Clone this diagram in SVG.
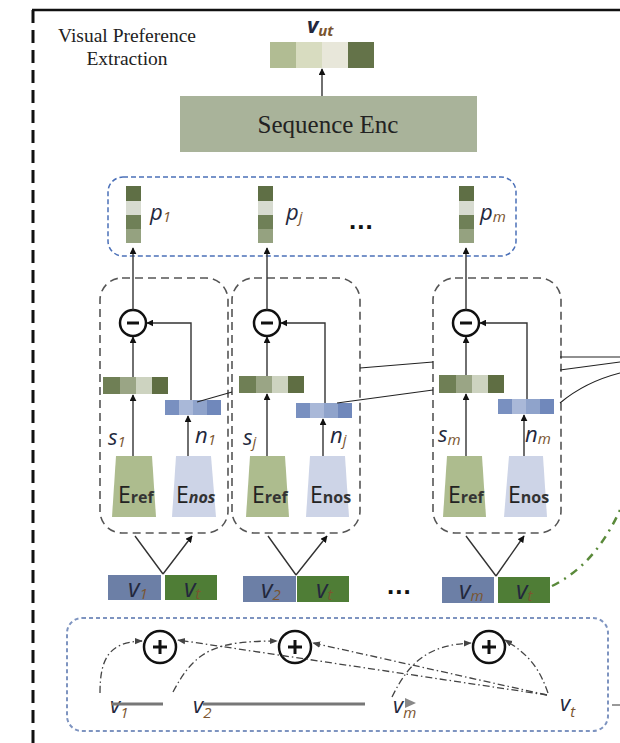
<svg xmlns="http://www.w3.org/2000/svg" width="620" height="743" viewBox="0 0 620 743">
<defs>
<marker id="ah" viewBox="0 0 10 10" refX="9" refY="5" markerWidth="7" markerHeight="7" orient="auto" markerUnits="userSpaceOnUse"><path d="M0,0 L10,5 L0,10 z" fill="#111"/></marker>
<marker id="ahg" viewBox="0 0 10 10" refX="9" refY="5" markerWidth="8" markerHeight="8" orient="auto" markerUnits="userSpaceOnUse"><path d="M0,1 L10,5 L0,9 z" fill="#444"/></marker>
</defs>
<style>
.ser{font-family:"Liberation Serif","Times New Roman",serif;fill:#222}
.lab{font-family:"Open Sans","DejaVu Sans",sans-serif;font-style:italic;fill:#23283d;font-size:22px}
.sub{font-size:15px;fill:#7a5530}
.big{font-size:25px}
.e{font-family:"Open Sans","DejaVu Sans",sans-serif;fill:#222;font-size:23px}
.es{font-size:16px;font-weight:bold;fill:#333}
.mod{fill:none;stroke:#555;stroke-width:1.6;stroke-dasharray:8 5}
.ar{stroke:#333;stroke-width:1.4;fill:none;marker-end:url(#ah)}
.ln{stroke:#222;stroke-width:1.1;fill:none}
.dd{stroke:#444;stroke-width:1.3;fill:none;stroke-dasharray:7 3 1.5 3}
.op{fill:#fff;stroke:#111;stroke-width:2.5}
.sg{stroke:#111;stroke-width:3}
.ref{fill:#adbc8e}
.nos{fill:#cdd4e7}
.vb{fill:#6c7fa6}
.vg{fill:#4f7d36}
.dots{font-family:"Liberation Sans",sans-serif;font-weight:bold;font-size:26px;fill:#111;letter-spacing:1px}
</style>

<g id="frame">
<line x1="32" y1="10" x2="620" y2="10" stroke="#111" stroke-width="2.5"/>
<line x1="33" y1="10" x2="33" y2="743" stroke="#111" stroke-width="3" stroke-dasharray="13 7"/>
</g>

<g id="title">
<text class="ser" x="127" y="42" font-size="19.5" text-anchor="middle">Visual Preference</text>
<text class="ser" x="127" y="65" font-size="19.5" text-anchor="middle">Extraction</text>
</g>

<g id="vut">
<rect x="270" y="42" width="26" height="26" fill="#b1bc93"/>
<rect x="296" y="42" width="26" height="26" fill="#d8dcc0"/>
<rect x="322" y="42" width="26" height="26" fill="#e8e7da"/>
<rect x="348" y="42" width="26" height="26" fill="#647349"/>
<text class="lab" x="307" y="33" font-weight="bold" font-size="19px">v<tspan class="sub" dy="3" fill="#3a3040">ut</tspan></text>
</g>

<g id="seqenc">
<rect x="180" y="96" width="297" height="56" fill="#a9b39a"/>
<text class="ser" x="328" y="133" font-size="25" text-anchor="middle">Sequence Enc</text>
</g>

<g id="pbox">
<rect x="108" y="177" width="408" height="79" rx="15" fill="none" stroke="#4b70b8" stroke-width="1.5" stroke-dasharray="5 3"/>
<g id="p1">
<rect x="126" y="186" width="15" height="15" fill="#5f6f45"/><rect x="126" y="201" width="15" height="14" fill="#d7dbd0"/><rect x="126" y="215" width="15" height="14" fill="#6f8057"/><rect x="126" y="229" width="15" height="14" fill="#95a280"/>
<text class="lab" x="150" y="220">p<tspan class="sub" dy="2">1</tspan></text>
</g>
<g id="pj">
<rect x="258" y="186" width="15" height="15" fill="#5f6f45"/><rect x="258" y="201" width="15" height="14" fill="#d7dbd0"/><rect x="258" y="215" width="15" height="14" fill="#6f8057"/><rect x="258" y="229" width="15" height="14" fill="#95a280"/>
<text class="lab" x="286" y="220">p<tspan class="sub" dy="2">j</tspan></text>
</g>
<text class="dots" x="349" y="229">...</text>
<g id="pm">
<rect x="459" y="186" width="15" height="15" fill="#5f6f45"/><rect x="459" y="201" width="15" height="14" fill="#d7dbd0"/><rect x="459" y="215" width="15" height="14" fill="#6f8057"/><rect x="459" y="229" width="15" height="14" fill="#95a280"/>
<text class="lab" x="480" y="220">p<tspan class="sub" dy="2">m</tspan></text>
</g>
</g>

<g id="module1">
<rect class="mod" x="100" y="278" width="128" height="255" rx="22"/>
<g>
<rect x="103" y="377" width="17" height="17" fill="#6f7f55"/><rect x="120" y="377" width="16" height="17" fill="#9aa585"/><rect x="136" y="377" width="16" height="17" fill="#cdd3c0"/><rect x="152" y="377" width="16" height="17" fill="#5f6e43"/>
</g>
<g>
<rect x="165" y="400" width="14" height="15" fill="#7990c0"/><rect x="179" y="400" width="14" height="15" fill="#a9b8d8"/><rect x="193" y="400" width="14" height="15" fill="#8fa3cb"/><rect x="207" y="400" width="14" height="15" fill="#7088bb"/>
</g>
<path class="ref" d="M116,456 L152,456 L156,517 L112,517 z"/>
<path class="nos" d="M176,456 L211,456 L216,517 L172,517 z"/>
<text class="e" x="118" y="503">E<tspan class="es">ref</tspan></text>
<text class="e" x="176" y="503">E<tspan class="es" font-style="italic">nos</tspan></text>
<text class="lab" x="108" y="445">s<tspan class="sub" dy="2">1</tspan></text>
<text class="lab" x="195" y="443">n<tspan class="sub" dy="2">1</tspan></text>
<circle class="op" cx="133" cy="323" r="13"/><line class="sg" x1="127" y1="323" x2="139" y2="323"/>
</g>

<g id="module2">
<rect class="mod" x="232" y="278" width="128" height="255" rx="22"/>
<g>
<rect x="239" y="376" width="17" height="17" fill="#6f7f55"/><rect x="256" y="376" width="16" height="17" fill="#9aa585"/><rect x="272" y="376" width="16" height="17" fill="#cdd3c0"/><rect x="288" y="376" width="16" height="17" fill="#5f6e43"/>
</g>
<g>
<rect x="296" y="403" width="14" height="15" fill="#7990c0"/><rect x="310" y="403" width="14" height="15" fill="#a9b8d8"/><rect x="324" y="403" width="14" height="15" fill="#8fa3cb"/><rect x="338" y="403" width="14" height="15" fill="#7088bb"/>
</g>
<path class="ref" d="M250,456 L285,456 L289,517 L246,517 z"/>
<path class="nos" d="M310,456 L345,456 L349,517 L306,517 z"/>
<text class="e" x="252" y="503">E<tspan class="es" font-weight="normal">ref</tspan></text>
<text class="e" x="310" y="503">E<tspan class="es" font-weight="normal">nos</tspan></text>
<text class="lab" x="243" y="445">s<tspan class="sub" dy="2">j</tspan></text>
<text class="lab" x="330" y="443">n<tspan class="sub" dy="2">j</tspan></text>
<circle class="op" cx="267" cy="323" r="13"/><line class="sg" x1="261" y1="323" x2="273" y2="323"/>
</g>

<g id="module3">
<rect class="mod" x="433" y="278" width="128" height="255" rx="22"/>
<g>
<rect x="439" y="375" width="17" height="18" fill="#6f7f55"/><rect x="456" y="375" width="16" height="18" fill="#9aa585"/><rect x="472" y="375" width="16" height="18" fill="#cdd3c0"/><rect x="488" y="375" width="16" height="18" fill="#5f6e43"/>
</g>
<g>
<rect x="498" y="399" width="14" height="15" fill="#7990c0"/><rect x="512" y="399" width="14" height="15" fill="#a9b8d8"/><rect x="526" y="399" width="14" height="15" fill="#8fa3cb"/><rect x="540" y="399" width="14" height="15" fill="#7088bb"/>
</g>
<path class="ref" d="M447,456 L482,456 L486,517 L443,517 z"/>
<path class="nos" d="M509,456 L543,456 L547,517 L504,517 z"/>
<text class="e" x="448" y="503">E<tspan class="es">ref</tspan></text>
<text class="e" x="508" y="503">E<tspan class="es" font-weight="normal">nos</tspan></text>
<text class="lab" x="438" y="442">s<tspan class="sub" dy="3">m</tspan></text>
<text class="lab" x="525" y="442">n<tspan class="sub" dy="2">m</tspan></text>
<circle class="op" cx="466" cy="323" r="13"/><line class="sg" x1="460" y1="323" x2="472" y2="323"/>
</g>

<g id="pairs">
<rect class="vb" x="108" y="575" width="53" height="25"/><rect class="vg" x="165" y="575" width="52" height="25"/>
<text class="lab big" x="128" y="597">v<tspan class="sub" dy="2" fill="#23283d">1</tspan></text>
<text class="lab big" x="184" y="597" fill="#111">v<tspan class="sub" dy="2" fill="#111">t</tspan></text>
<rect class="vb" x="243" y="576" width="53" height="26"/><rect class="vg" x="297" y="576" width="52" height="26"/>
<text class="lab big" x="261" y="598">v<tspan class="sub" dy="2" fill="#23283d">2</tspan></text>
<text class="lab big" x="316" y="598" fill="#111">v<tspan class="sub" dy="2" fill="#111">t</tspan></text>
<text class="dots" x="387" y="594">...</text>
<rect class="vb" x="442" y="577" width="52" height="26"/><rect class="vg" x="498" y="577" width="52" height="26"/>
<text class="lab big" x="459" y="599">v<tspan class="sub" dy="2" fill="#23283d">m</tspan></text>
<text class="lab big" x="516" y="599" fill="#111">v<tspan class="sub" dy="2" fill="#111">t</tspan></text>
</g>

<g id="bottom">
<rect x="67" y="618" width="541" height="113" rx="15" fill="none" stroke="#7e94c0" stroke-width="2" stroke-dasharray="4 3"/>
<circle class="op" cx="160" cy="647" r="16"/><line class="sg" x1="153" y1="647" x2="167" y2="647"/><line class="sg" x1="160" y1="640" x2="160" y2="654"/>
<circle class="op" cx="295" cy="647" r="16"/><line class="sg" x1="288" y1="647" x2="302" y2="647"/><line class="sg" x1="295" y1="640" x2="295" y2="654"/>
<circle class="op" cx="489" cy="647" r="16"/><line class="sg" x1="482" y1="647" x2="496" y2="647"/><line class="sg" x1="489" y1="640" x2="489" y2="654"/>
<text class="lab" x="110" y="713">v<tspan class="sub" dy="5" font-size="17px">1</tspan></text>
<text class="lab" x="193" y="713">v<tspan class="sub" dy="5" font-size="17px">2</tspan></text>
<text class="lab" x="393" y="713">v<tspan class="sub" dy="5" font-size="17px">m</tspan></text>
<text class="lab" x="560" y="711">v<tspan class="sub" dy="6" font-size="17px">t</tspan></text>
<line x1="112" y1="704" x2="163" y2="704" stroke="#777" stroke-width="3"/>
<line x1="203" y1="704" x2="365" y2="704" stroke="#777" stroke-width="3"/>
<path d="M405,698 L416,703 L405,708 z" fill="#888"/>
<line x1="612" y1="705" x2="620" y2="705" stroke="#777" stroke-width="1.5"/>
</g>

<g id="connectors">
<line class="ar" x1="322" y1="96" x2="322" y2="69"/>
<line class="ar" x1="133" y1="310" x2="133" y2="248"/>
<line class="ar" x1="267" y1="310" x2="267" y2="248"/>
<line class="ar" x1="466" y1="310" x2="466" y2="248"/>
<line class="ar" x1="133" y1="377" x2="133" y2="337"/>
<line class="ar" x1="267" y1="376" x2="267" y2="337"/>
<line class="ar" x1="466" y1="375" x2="466" y2="337"/>
<path class="ar" d="M191,400 L191,323 L147,323"/>
<path class="ar" d="M325,403 L325,323 L281,323"/>
<path class="ar" d="M527,399 L527,323 L480,323"/>
<line class="ar" x1="133" y1="456" x2="133" y2="395"/>
<line class="ar" x1="188" y1="456" x2="188" y2="416"/>
<line class="ar" x1="267" y1="456" x2="267" y2="394"/>
<line class="ar" x1="323" y1="456" x2="323" y2="419"/>
<line class="ar" x1="466" y1="456" x2="466" y2="394"/>
<line class="ar" x1="524" y1="456" x2="524" y2="415"/>
<path class="ar" d="M163,574 L135,536 M163,574 L192,536"/>
<path class="ar" d="M296,575 L268,536 M296,575 L327,536"/>
<path class="ar" d="M496,576 L466,536 M496,576 L524,536"/>
<path class="ln" d="M197,402 L232,392"/>
<path class="ln" d="M337,403 L433,390"/>
<path class="ln" d="M360,368 L433,362"/>
<path class="ln" d="M560,357 L620,357"/>
<path class="ln" d="M560,370 L620,362"/>
<path class="ln" d="M560,403 Q585,382 620,373"/>
<path d="M552,586 Q595,565 620,510" fill="none" stroke="#5a8a3a" stroke-width="2.5" stroke-dasharray="8 6 2 6"/>
<path class="dd" d="M100,693 C100,660 108,642 142,641" marker-end="url(#ahg)"/>
<path class="dd" d="M173,692 C195,650 215,641 277,641" marker-end="url(#ahg)"/>
<path class="dd" d="M547,695 L178,640" marker-end="url(#ahg)"/>
<path class="dd" d="M547,695 L313,643" marker-end="url(#ahg)"/>
<path class="dd" d="M392,697 C410,660 430,645 471,643" marker-end="url(#ahg)"/>
<path class="dd" d="M548,693 C540,670 530,655 505,640" marker-end="url(#ahg)"/>
</g>
</svg>
